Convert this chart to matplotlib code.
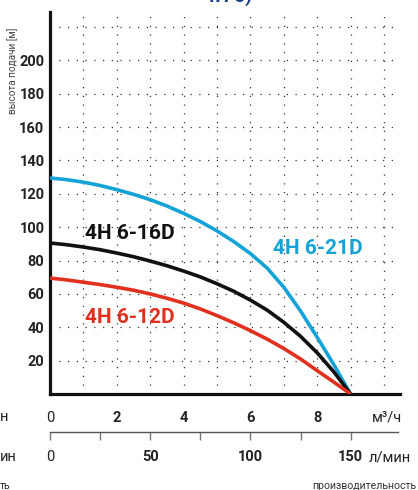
import matplotlib
matplotlib.use("Agg")
import matplotlib.pyplot as plt

plt.rcParams['font.family'] = ['Roboto', 'DejaVu Sans']

# flow in m3/h, head in m
flow = [0, 0.5, 1, 1.5, 2, 2.5, 3, 3.5, 4, 4.5, 5, 5.5, 6, 6.5, 7, 7.5, 8, 8.5, 9]
head_21d = [129.5, 128.5, 127, 125, 122.5, 119.7, 116.5, 112.7, 108.3, 103.4, 97.8, 91.4,
            84.2, 75.5, 64, 49.8, 34, 17.5, 0]
head_16d = [90.5, 89.5, 88.1, 86.5, 84.5, 82.3, 79.7, 76.9, 73.7, 70.2, 66.1, 61.6,
            56.3, 50.3, 43, 34.6, 24.7, 13.2, 0]
head_12d = [69.5, 68.4, 67, 65.6, 64, 62.2, 60, 57.4, 54.5, 51, 47, 42.7,
            38, 32.9, 27.3, 21, 14, 7.1, 0]

names = ["4H 6-21D", "4H 6-16D", "4H 6-12D"]
colors = ["#13a3d6", "#111111", "#e2301f"]

x_grid = [1, 2, 3, 4, 5, 6, 7, 8, 9, 10]
y_ticks = [20, 40, 60, 80, 100, 120, 140, 160, 180, 200, 220]
y_labels = ["20", "40", "60", "80", "100", "120", "140", "160", "180", "200", ""]
x_ticks = [0, 2, 4, 6, 8]
x_labels = ["0", "2", "4", "6", "8"]
lmin_ticks = [0, 25, 50, 75, 100, 125, 150]
lmin_labels = ["0", "", "50", "", "100", "", "150"]

W, H = 418, 490
fig = plt.figure(figsize=(W / 100, H / 100), dpi=100)
ax = fig.add_axes([50 / W, 1 - 394 / H, 350 / W, 382 / H])

xmax = 350 / 33.4
ax.set_xlim(0, xmax)
ax.set_ylim(0, 229)

# dotted grid
for gx in x_grid:
    ax.axvline(gx, color="#333333", lw=0.9, ls=(0, (1, 6)), zorder=1)
for gy in y_ticks:
    ax.axhline(gy, color="#333333", lw=0.9, ls=(0, (1, 6)), zorder=1)

for h, c in zip([head_21d, head_16d, head_12d], colors):
    ax.plot(flow, h, color=c, lw=2.6, solid_capstyle="butt", solid_joinstyle="round", zorder=3)

ax.text(1.05, 96, names[1], color=colors[1], fontsize=15, fontweight="bold", va="center")
ax.text(1.05, 46, names[2], color=colors[2], fontsize=15, fontweight="bold", va="center")
ax.text(6.68, 87, names[0], color=colors[0], fontsize=15, fontweight="bold", va="center")

for s in ["top", "right"]:
    ax.spines[s].set_visible(False)
for s in ["left", "bottom"]:
    ax.spines[s].set_linewidth(2.3)
    ax.spines[s].set_color("#111111")

ax.set_yticks(y_ticks)
ax.set_yticklabels(y_labels)
ax.tick_params(axis="y", length=0, pad=4, labelsize=10.5, labelcolor="#222222")
for t in ax.get_yticklabels():
    t.set_fontweight("bold")

ax.set_xticks(x_ticks)
ax.set_xticklabels(x_labels)
ax.tick_params(axis="x", length=0, pad=12, labelsize=10.5, labelcolor="#222222")
for i, t in enumerate(ax.get_xticklabels()):
    t.set_fontweight("normal" if i == 0 else "bold")

# second flow scale in l/min
ax2 = fig.add_axes([50 / W, 1 - 432 / H, 348 / W, 0.0001])
ax2.set_xlim(0, 348 / 33.4 * 50 / 3)
ax2.set_yticks([])
for s in ["top", "right", "left"]:
    ax2.spines[s].set_visible(False)
ax2.spines["bottom"].set_color("#555555")
ax2.spines["bottom"].set_linewidth(1.0)
ax2.set_xticks(lmin_ticks)
ax2.set_xticklabels(lmin_labels)
ax2.tick_params(axis="x", direction="out", length=6, width=1.0, color="#777777",
                pad=7, labelsize=10.5, labelcolor="#222222")
for i, t in enumerate(ax2.get_xticklabels()):
    t.set_fontweight("normal" if i == 0 else "bold")
ax2.patch.set_visible(False)

fig.text(387 / W, 1 - 417 / H, "м³/ч", ha="center", va="center", fontsize=10.5, color="#222222")
fig.text(369 / W, 1 - 457 / H, "л/мин", ha="left", va="center", fontsize=10.5, color="#222222")
fig.text(416 / W, 1 - 486 / H, "производительность", ha="right", va="center", fontsize=7.6, color="#333333")
fig.text(13 / W, 1 - 71 / H, "высота подачи [м]", ha="center", va="center", rotation=90,
         fontsize=7.2, color="#444444")

# fragments of the neighbouring chart and the clipped title
fig.text(0, 1 - 417 / H, "н", ha="left", va="center", fontsize=10.5, color="#222222")
fig.text(0, 1 - 457 / H, "ин", ha="left", va="center", fontsize=10.5, color="#222222")
fig.text(0, 1 - 486 / H, "ть", ha="left", va="center", fontsize=7.6, color="#333333")
fig.text(228 / W, 1 - 1.5 / H, "4H 6)", ha="center", va="baseline", fontsize=14,
         fontweight="bold", color="#1f3c88")

fig.savefig("out.png", dpi=100)
